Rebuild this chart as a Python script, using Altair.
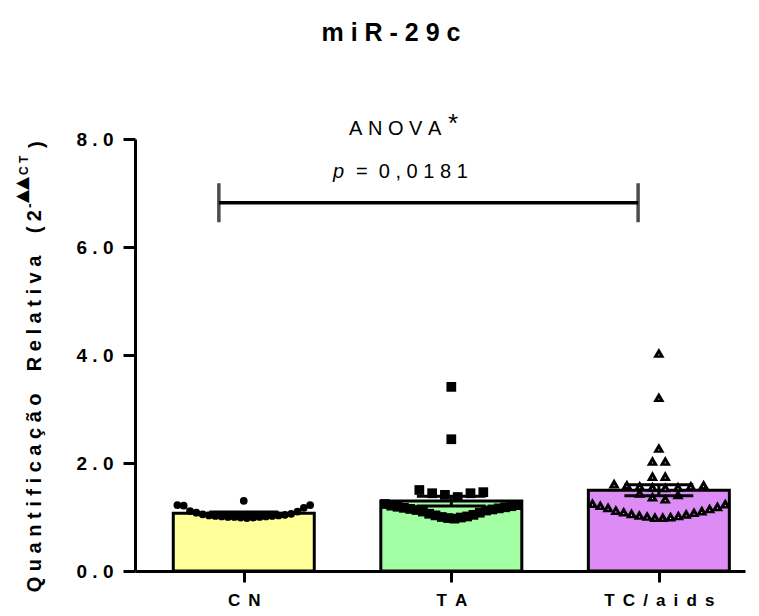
import altair as alt
import pandas as pd

# ---------------- data ----------------
categories = ["CN", "TA", "TC/aids"]
bar_colors = ["#FFFF99", "#A3FFA3", "#DD8CF5"]
shapes = ["circle", "square", "triangle-up"]

cn_values = [1.30, 1.22, 1.21, 1.22, 1.17, 1.11, 1.10, 1.08, 1.06, 1.05, 1.04, 1.03,
             1.03, 1.02, 1.02, 1.01, 1.01, 1.00, 1.00, 1.00, 0.99, 0.99, 0.98]
ta_values = [3.41, 2.44, 1.50, 1.44, 1.41, 1.37, 1.44, 1.46,
             1.24, 1.22, 1.20, 1.18, 1.17, 1.15, 1.14, 1.12, 1.10, 1.08, 1.06,
             1.04, 1.03, 1.01, 1.00, 0.99, 0.98, 0.97, 1.21, 1.19, 1.16, 1.13]
tc_values = [4.04, 3.22, 2.28, 2.04, 2.04, 1.76, 1.76,
             1.56, 1.56, 1.58, 1.60, 1.60, 1.62, 1.55, 1.58,
             1.34, 1.38, 1.42, 1.45,
             1.26, 1.25, 1.22, 1.20, 1.18, 1.16, 1.13, 1.10, 1.07, 1.04,
             1.02, 1.00, 1.00, 1.01, 1.03, 1.06, 1.09, 1.12]
group_values = [cn_values, ta_values, tc_values]

y_ticks = [0, 2, 4, 6, 8]
title_text = "miR-29c"
anova_text = "ANOVA"
p_text = "0,0181"
bracket_value = 6.82

# ---------------- layout helpers ----------------
X_MAX = 2.891          # x domain in category units
PLOT_W, PLOT_H = 610, 432
PX_PER_UNIT = PLOT_W / X_MAX
NB = "\u00a0"
WIDE = "\u00a0\u2009"


def spaced(s, sep=NB):
    return sep.join(list(s))


def scatter_offsets(values, gap=0.07, max_w=135.0, max_s=13.0):
    """GraphPad-like column scatter: rows of close values spread horizontally."""
    order = sorted(range(len(values)), key=lambda i: values[i])
    rows, cur = [], [order[0]]
    for a, b in zip(order, order[1:]):
        if values[b] - values[a] > gap + 1e-9:
            rows.append(cur)
            cur = [b]
        else:
            cur.append(b)
    rows.append(cur)
    off = [0.0] * len(values)
    for row in rows:
        n = len(row)
        if n == 1:
            continue
        s = min(max_s, max_w / (n - 1))
        slots = [(k - (n - 1) / 2) * s for k in range(n)]
        slots = sorted(slots, key=lambda p: (abs(p), -p))
        for idx, p in zip(row, slots):
            off[idx] = p
    return off


rows = []
for gi, (cat, vals) in enumerate(zip(categories, group_values)):
    pos = gi + 0.5
    offs = scatter_offsets(vals)
    for v, o in zip(vals, offs):
        rows.append({"cat": cat, "pos": pos, "value": v, "xp": pos + o / PX_PER_UNIT})
points = pd.DataFrame(rows)

x_scale = alt.Scale(domain=[0, X_MAX], nice=False, zero=False)
y_scale = alt.Scale(domain=[0, 8], nice=False)
color_scale = alt.Scale(domain=categories, range=bar_colors)

label_expr = " : ".join(
    f"datum.value < {i + 1} ? '{spaced(c, WIDE)}'" for i, c in enumerate(categories[:-1])
) + f" : '{spaced(categories[-1], WIDE)}'"

base = alt.Chart(points)

bars = base.transform_aggregate(
    mean="mean(value)", groupby=["cat", "pos"]
).mark_bar(size=141, stroke="black", strokeWidth=3).encode(
    x=alt.X("pos:Q", scale=x_scale,
            axis=alt.Axis(values=[0.5, 1.5, 2.5], labelExpr=label_expr, title=None,
                          tickSize=11, labelPadding=10, labelFontSize=17,
                          labelBaseline="top")),
    y=alt.Y("mean:Q", scale=y_scale,
            axis=alt.Axis(values=y_ticks, title=None, tickSize=12, labelPadding=10,
                          labelFontSize=19,
                          labelExpr=f"format(datum.value, '.0f') + '{NB}.{NB}0'")),
    color=alt.Color("cat:N", scale=color_scale, legend=None),
)

pts = base.mark_point(filled=True, opacity=1, strokeWidth=0, color="black").encode(
    x=alt.X("xp:Q", scale=x_scale),
    y=alt.Y("value:Q", scale=y_scale),
    shape=alt.Shape("cat:N", scale=alt.Scale(domain=categories, range=shapes), legend=None),
    size=alt.Size("cat:N", scale=alt.Scale(domain=categories, range=[60, 130, 175]), legend=None),
)

tri_dots = base.transform_filter(
    alt.datum.cat == categories[2]
).mark_circle(color="white", opacity=1, size=1.5, yOffset=2).encode(
    x=alt.X("xp:Q", scale=x_scale),
    y=alt.Y("value:Q", scale=y_scale),
)

err = base.transform_aggregate(
    mean="mean(value)", sem="stderr(value)", groupby=["pos"]
).transform_calculate(
    lo="datum.mean - datum.sem", hi="datum.mean + datum.sem",
    cl="datum.pos - 35 / %f" % PX_PER_UNIT, cr="datum.pos + 35 / %f" % PX_PER_UNIT,
)
err_v = err.mark_rule(color="black", strokeWidth=3).encode(
    x=alt.X("pos:Q", scale=x_scale), y=alt.Y("lo:Q", scale=y_scale), y2="hi:Q")
err_hi = err.mark_rule(color="black", strokeWidth=3).encode(
    x=alt.X("cl:Q", scale=x_scale), x2="cr:Q", y=alt.Y("hi:Q", scale=y_scale))
err_lo = err.mark_rule(color="black", strokeWidth=3).encode(
    x=alt.X("cl:Q", scale=x_scale), x2="cr:Q", y=alt.Y("lo:Q", scale=y_scale))

# significance bracket from the first to the last group
bdf = pd.DataFrame({"x1": [0.5 - 0.12], "x2": [2.5 - 0.10], "y": [bracket_value]})
bchart = alt.Chart(bdf)
b_h = bchart.mark_rule(color="black", strokeWidth=3.5).encode(
    x=alt.X("x1:Q", scale=x_scale), x2="x2:Q", y=alt.Y("y:Q", scale=y_scale))
b_l = bchart.mark_tick(color="black", orient="vertical", size=39, thickness=3.5).encode(
    x=alt.X("x1:Q", scale=x_scale), y=alt.Y("y:Q", scale=y_scale))
b_r = bchart.mark_tick(color="black", orient="vertical", size=39, thickness=3.5).encode(
    x=alt.X("x2:Q", scale=x_scale), y=alt.Y("y:Q", scale=y_scale))

OX, OY = 135, 139  # plot origin on the page


def txt(text, x, y, size, weight="normal", align="left", baseline="alphabetic",
        angle=0, style="normal", font="Liberation Sans"):
    kw = dict(font=font, fontSize=size, fontWeight=weight, align=align,
              baseline=baseline, color="black", fontStyle=style)
    if angle:
        kw["angle"] = angle
    return alt.Chart(pd.DataFrame({"t": [text]})).mark_text(**kw).encode(
        text="t:N", x=alt.value(x - OX), y=alt.value(y - OY))


title = txt(spaced(title_text), 391, 41, 25, weight="bold", align="center")
anova = txt(spaced(anova_text), 349, 135, 20)
star = txt("*", 448, 132, 26)
p_i = txt("p", 333, 178, 20, style="italic")
p_v = txt("=" + NB + NB + spaced(p_text), 356, 178, 20)

ylab_main = txt(NB.join("Quantificação") + NB * 4 + NB.join("Relativa") + NB * 4 + "(" + NB + "2",
                35, 210, 20, weight="bold", align="right", baseline="middle", angle=270)
ylab_minus = txt("-", 30, 208, 14, weight="bold", baseline="middle", angle=270)
ylab_tri = txt("\u25b2\u25b2", 21.5, 203, 17, baseline="middle", angle=270,
               font="DejaVu Sans")
ylab_ct = txt("C" + NB + "T", 24, 175, 12, weight="bold", baseline="middle", angle=270)
ylab_close = txt(")", 37, 148, 20, weight="bold", baseline="middle", angle=270)

chart = alt.layer(
    bars, pts, tri_dots, err_v, err_hi, err_lo, b_h, b_l, b_r,
    title, anova, star, p_i, p_v, ylab_main, ylab_minus, ylab_tri, ylab_ct, ylab_close,
).properties(
    width=PLOT_W, height=PLOT_H,
    autosize=alt.AutoSizeParams(type="none"),
    padding={"left": OX - 8, "top": OY - 8, "right": 4, "bottom": 37},
).configure_view(stroke=None).configure_axis(
    grid=False, domainColor="black", domainWidth=3, tickColor="black", tickWidth=3,
    labelColor="black", labelFont="Liberation Sans", labelFontWeight="bold",
)

chart.save("out.html", embed_options={"renderer": "svg", "actions": False})
